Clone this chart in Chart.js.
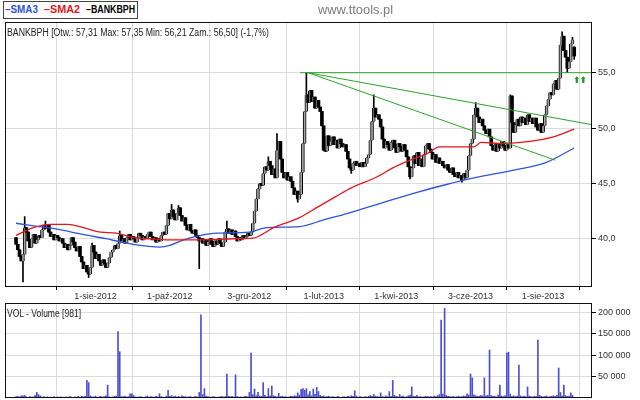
<!DOCTYPE html>
<html><head><meta charset="utf-8">
<script src="https://cdn.jsdelivr.net/npm/chart.js@4.4.0/dist/chart.umd.min.js"></script>
<style>
html,body{margin:0;padding:0;background:#fff;}
#wrap{position:relative;width:640px;height:400px;overflow:hidden;font-family:"Liberation Sans",Arial,sans-serif;}
canvas{position:absolute;left:0;}
#c1{top:0;}
#c2{top:300px;}
.t{position:absolute;white-space:nowrap;transform-origin:0 0;line-height:1;}
#legbox{position:absolute;left:3px;top:1px;width:133px;height:16px;border:1px solid #444;background:#fff;}
.lg{font-weight:bold;font-size:11px;top:4px;}
</style></head><body>
<div id="wrap">
<canvas id="c1" width="640" height="305"></canvas>
<canvas id="c2" width="640" height="100"></canvas>
<div id="legbox"></div>
<div class="t lg" id="lg1" style="left:5px;color:#2f52d6">–SMA3</div>
<div class="t lg" id="lg2" style="left:44px;color:#e3161c">–SMA2</div>
<div class="t lg" id="lg3" style="left:86px;color:#000">–BANKBPH</div>
<div class="t" id="site" style="left:318px;top:3px;font-size:13px;color:#7a7a7a">www.ttools.pl</div>
<div class="t" id="head" style="left:7px;top:28px;font-size:10px;color:#222"></div>
<div class="t" id="volh" style="left:7px;top:309px;font-size:10px;color:#222"></div>
<div class="t" id="arrows" style="left:573px;top:76px;font-size:9px;font-weight:bold;color:#1f9a1f;letter-spacing:-1px;font-family:'DejaVu Sans',sans-serif">⬆⬆</div>
</div>
<script>
// ---------------- DATA ----------------
const stockName = 'BANKBPH';
const closes = [
39.5,39.0,38.4,38.0,38.6,41.0,40.6,39.8,39.2,40.0,
40.4,39.6,39.9,40.3,40.1,40.8,41.2,40.9,41.3,40.6,
40.2,40.4,39.9,40.3,40.1,39.8,40.0,39.6,39.2,39.5,
39.0,39.4,40.1,39.7,39.2,38.9,39.3,38.4,37.9,37.3,
37.6,37.0,36.8,37.4,39.4,38.8,38.2,38.6,38.0,37.6,
38.1,37.8,37.4,37.8,38.3,38.8,39.0,39.4,39.1,39.6,
40.3,39.8,40.0,39.6,40.1,40.4,39.9,40.2,40.0,39.7,
40.1,40.5,40.3,39.9,40.2,40.0,40.4,40.6,40.2,39.9,
40.1,39.7,40.0,39.8,40.3,40.6,40.4,41.2,42.3,41.8,
42.6,42.0,41.7,42.3,42.8,42.1,41.6,41.9,41.2,40.8,
41.3,40.7,40.5,40.8,40.3,40.1,39.8,40.0,39.6,39.9,
39.4,39.7,40.0,39.5,39.3,39.8,39.5,40.0,39.6,39.3,
39.7,40.6,40.9,40.5,40.8,40.4,40.7,40.2,39.8,40.1,
39.9,40.3,40.0,40.2,40.5,40.3,40.6,41.4,42.5,43.6,
44.5,45.0,44.8,45.9,46.5,46.2,47.0,46.6,45.8,46.3,
45.5,48.0,48.8,47.2,46.0,45.5,46.0,45.3,45.6,45.2,
44.6,44.0,44.3,43.6,44.0,46.0,48.6,51.5,53.0,52.3,
53.4,52.4,52.8,51.8,52.5,51.9,51.5,50.2,48.0,47.9,
49.3,48.4,48.8,49.2,48.5,48.9,48.2,49.0,48.6,48.3,
48.5,47.9,47.2,46.4,46.2,46.8,47.0,46.6,46.8,46.5,
46.9,46.5,46.8,47.3,47.6,48.9,50.6,51.8,51.0,51.2,
50.8,50.1,49.0,48.2,48.8,48.5,48.0,48.7,48.9,48.2,
47.8,48.6,48.3,47.9,48.5,48.0,47.4,46.5,45.6,46.4,
47.5,46.8,47.8,46.6,47.2,46.5,47.6,48.4,48.6,48.1,
47.8,47.2,47.6,46.9,47.3,46.8,47.0,46.6,46.4,46.7,
46.2,46.0,46.4,45.8,45.6,46.0,45.5,45.7,45.3,45.9,
45.5,46.2,47.5,48.6,49.0,51.2,51.8,51.0,50.5,50.8,
50.2,49.8,49.5,49.9,49.2,48.4,48.0,48.5,47.9,48.6,
48.2,48.8,48.4,48.0,48.5,48.2,52.9,50.5,49.6,50.3,
50.8,50.2,51.0,50.5,50.9,50.3,51.2,50.6,50.9,50.4,
50.9,50.1,49.8,50.4,49.6,50.2,51.2,52.0,52.6,53.2,
53.0,54.0,54.3,53.5,54.5,57.5,58.3,57.0,56.4,55.4,
56.0,57.6,58.0,56.50
];
const firstOpen = 40.1;
const lastBar = {open:57.31, high:57.35, low:56.21, close:56.50, change:-1.7};
// notable wick extremes (bar index : price)
const wickHigh = {5:42.0,17:41.6,44:39.6,60:40.7,90:43.1,94:43.0,122:41.6,146:47.4,151:49.5,168:55.0,207:53.0,266:52.3,286:53.0,316:58.7,322:58.2};
const wickLow  = {4:36.1,42:36.5,106:37.3,163:43.3,194:45.9,228:45.4,258:45.1,319:55.0};

const volumes = [
3200,4100,2500,5200,4800,6100,2900,1800,3500,2200,
2700,6000,13000,8000,5000,2400,3100,1900,2600,1500,
2200,1800,3300,1200,2500,1700,2900,2100,1400,2600,
1900,3200,2300,1600,2800,2000,3600,2400,4100,2900,
3800,41000,36000,5000,3000,2200,4600,1800,2500,3900,
2100,3300,5200,30000,2700,1900,2600,3800,4400,155000,
108000,3500,2900,4200,2400,3100,10000,10000,6000,2800,
1900,2600,3400,2200,1700,3000,4800,2300,3600,2500,
2100,3900,2700,10000,3200,2400,1800,4500,18000,3700,
5600,3100,4300,2600,3800,2200,4900,3400,2800,1900,
2500,3300,1600,2900,3700,2100,13000,194000,8000,22000,
4200,3100,2500,1900,3400,2700,1800,2200,3000,4100,
2600,3500,56000,4400,2900,3800,2300,54000,3600,2100,
2700,1900,3200,4500,2800,13000,105000,8000,21000,5400,
13000,4700,3900,36000,6200,3100,22000,4800,28000,5600,
3900,2700,11000,3400,4100,2500,3300,1900,2800,4200,
3600,5100,4400,12000,6800,20000,22000,18000,22000,7300,
15000,5200,21000,8400,25000,15000,6100,3800,4900,2700,
3600,4300,2100,3100,2600,1800,3900,2400,1700,2800,
3300,2200,4100,2900,5400,3700,17000,4600,2300,3100,
2500,1900,3600,2200,4300,5700,3800,8200,4400,3600,
2900,12000,3400,2600,4800,3200,15000,4100,41000,6300,
3900,2800,8000,3500,4700,2400,3100,5200,6900,26000,
4400,3600,6000,2700,3300,1900,2600,4200,3800,2900,
3500,2300,4600,3100,5500,7800,182000,9400,209000,6200,
4100,3300,2600,3800,2200,3100,4500,2700,3600,5100,
4300,10000,6800,56000,47000,7200,5400,3900,4600,6100,
4800,47000,5300,6200,112000,5600,3800,4400,2900,6700,
30000,4900,3600,5800,105000,107000,9300,4100,5200,3700,
4600,77000,5100,3200,4400,2800,26000,4700,3500,2600,
4200,3300,135000,5900,3800,2700,3400,4900,2600,3100,
4400,5200,3600,6100,70000,13000,4800,30000,5700,3900,
4300,12000,6500,981
];

// moving averages: [bar index, value]
const sma3 = [[0,41.4],[13,41.1],[23,40.9],[32,40.6],[42,40.3],[52,40.0],[61,39.7],[72,39.4],[83,39.25],[89,39.4],[97,39.9],[107,40.3],[116,40.5],[135,40.6],[145,41.0],[164,41.1],[178,41.7],[192,42.3],[211,43.2],[230,44.1],[249,44.9],[265,45.5],[288,46.2],[307,46.9],[323,48.2]];
const sma2 = [[0,40.3],[10,41.0],[20,41.3],[30,41.3],[39,41.0],[49,40.6],[58,40.5],[68,40.1],[78,40.0],[87,39.9],[107,39.9],[126,40.0],[137,40.05],[149,41.0],[164,41.9],[175,42.9],[185,43.8],[194,44.6],[209,45.6],[218,46.4],[228,47.1],[238,47.7],[245,48.3],[265,48.3],[269,48.7],[282,48.6],[292,48.7],[302,48.9],[311,49.2],[323,49.9]];

// trend lines: [bar index, price]
const resistanceLine = [[164.4,55.0],[333.3,55.0]];
const trendUpper = [[169,55.0],[333.3,50.3]];
const trendLower = [[169,55.0],[312,47.1]];

// x axis: bar index of each labelled date
const xTickIndex  = [1, 46, 89, 135, 178, 220, 263, 305];
const xTickLabels = ['', '1-sie-2012', '1-paź-2012', '3-gru-2012', '1-lut-2013', '1-kwi-2013', '3-cze-2013', '1-sie-2013'];
const priceTicks = [40, 45, 50, 55];
const volumeTicks = [50000, 100000, 150000, 200000];

// ---------------- BUILD ----------------
const N = closes.length;
const opens = closes.map((c,i)=> i===0 ? firstOpen : (i===N-1 ? lastBar.open : closes[i-1]));
const bodyData = closes.map((c,i)=>({x:i, y:[opens[i], c]}));
const wickData = closes.map((c,i)=>{
  let lo = Math.min(opens[i], c), hi = Math.max(opens[i], c);
  if (wickLow[i] !== undefined) lo = Math.min(lo, wickLow[i]);
  if (wickHigh[i] !== undefined) hi = Math.max(hi, wickHigh[i]);
  if (i===N-1){ lo = Math.min(lo,lastBar.low); hi = Math.max(hi,lastBar.high); }
  return {x:i, y:[lo, hi]};
});
const isUp = closes.map((c,i)=> c >= opens[i]);
const pts = a => a.map(([x,y])=>({x,y}));

const X_MIN = -6.4, X_MAX = 333.3;
Chart.defaults.font.family = '"Liberation Sans", Arial, sans-serif';
Chart.defaults.color = '#333';

const frame = {id:'frame', afterDraw(c){
  const {ctx, chartArea:a} = c;
  ctx.save(); ctx.strokeStyle='#111'; ctx.lineWidth=1;
  ctx.strokeRect(Math.round(a.left)+0.5, Math.round(a.top)+0.5, Math.round(a.right-a.left)-1, Math.round(a.bottom-a.top)-1);
  ctx.restore();
}};

const gridCol = '#dcdcdc';
const xScale = (showLabels, h) => ({
  type:'linear', min:X_MIN, max:X_MAX, offset:false,
  afterBuildTicks: s => { s.ticks = xTickIndex.map(v=>({value:v})); },
  ticks:{display:showLabels, autoSkip:false, maxRotation:0, minRotation:0, font:{size:9}, color:'#333', padding:1,
         callback:(v,i)=> xTickLabels[i] ?? ''},
  grid:{color:gridCol, tickColor:'#000', tickLength: showLabels?3:0, drawTicks:showLabels},
  border:{display:false},
  afterFit: s => { s.height = h; s.paddingLeft = 0; s.paddingRight = 0; }
});

new Chart(document.getElementById('c1'), {
  type:'bar',
  data:{datasets:[
    {type:'bar', data:wickData, backgroundColor:'#000', barThickness:1, grouped:false, order:7},
    {type:'bar', data:bodyData, backgroundColor:isUp.map(u=>u?'#a6a6a6':'#000'), borderColor:'#000',
     borderWidth:isUp.map(u=>u?{left:1,right:1,top:0,bottom:0}:0), borderSkipped:false, barThickness:3, grouped:false, order:6},
    {type:'line', data:pts(sma3), borderColor:'#3153dc', borderWidth:1.3, pointRadius:0, cubicInterpolationMode:'monotone', order:5},
    {type:'line', data:pts(sma2), borderColor:'#e3161c', borderWidth:1.3, pointRadius:0, cubicInterpolationMode:'monotone', order:4},
    {type:'line', data:pts(resistanceLine), borderColor:'#2ea12e', borderWidth:1, pointRadius:0, order:3},
    {type:'line', data:pts(trendUpper), borderColor:'#2ea12e', borderWidth:1, pointRadius:0, order:2},
    {type:'line', data:pts(trendLower), borderColor:'#2ea12e', borderWidth:1, pointRadius:0, order:1}
  ]},
  options:{
    responsive:false, animation:false, devicePixelRatio:1,
    layout:{padding:{left:5, top:22, right:0, bottom:0}},
    plugins:{legend:{display:false}, tooltip:{enabled:false}},
    scales:{
      x: xScale(true, 18),
      y:{position:'right', min:35.64, max:59.58,
         afterBuildTicks: s => { s.ticks = priceTicks.map(v=>({value:v})); },
         ticks:{font:{size:9}, color:'#333', padding:2, callback:v=> v.toFixed(1).replace('.', ',')},
         grid:{color:gridCol, tickColor:'#000', tickLength:4},
         border:{display:false},
         afterFit: s => { s.width = 48; s.paddingTop = 0; s.paddingBottom = 0; }}
    }
  },
  plugins:[frame]
});

new Chart(document.getElementById('c2'), {
  type:'bar',
  data:{datasets:[
    {data:volumes.map((v,i)=>({x:i, y:v})), backgroundColor:'#4d4dd8', barThickness:1}
  ]},
  options:{
    responsive:false, animation:false, devicePixelRatio:1,
    layout:{padding:{left:5, top:3, right:0, bottom:0}},
    plugins:{legend:{display:false}, tooltip:{enabled:false}},
    scales:{
      x: xScale(false, 2),
      y:{position:'right', min:0, max:221700,
         afterBuildTicks: s => { s.ticks = volumeTicks.map(v=>({value:v})); },
         ticks:{font:{size:9}, color:'#333', padding:2, callback:v=> String(v).replace(/\B(?=(\d{3})+(?!\d))/g,' ')},
         grid:{color:gridCol, tickColor:'#000', tickLength:4},
         border:{display:false},
         afterFit: s => { s.width = 48; s.paddingTop = 0; s.paddingBottom = 0; }}
    }
  },
  plugins:[frame]
});

// ---------------- TEXT ----------------
const f2 = v => v.toFixed(2).replace('.', ',');
document.getElementById('head').textContent =
  `${stockName} [Otw.: ${f2(lastBar.open)}  Max: ${f2(lastBar.high)}  Min: ${f2(lastBar.low)}  Zam.: ${f2(lastBar.close)}] (${lastBar.change.toFixed(1).replace('.', ',')}%)`;
document.getElementById('volh').textContent = `VOL - Volume [${volumes[N-1]}]`;
function fitW(id, w){ const el=document.getElementById(id); const r=el.getBoundingClientRect().width; if(r>0) el.style.transform=`scaleX(${w/r})`; }
fitW('head', 262); fitW('volh', 74); fitW('site', 75);
fitW('lg1', 33); fitW('lg2', 36); fitW('lg3', 49);
</script>
</body></html>
